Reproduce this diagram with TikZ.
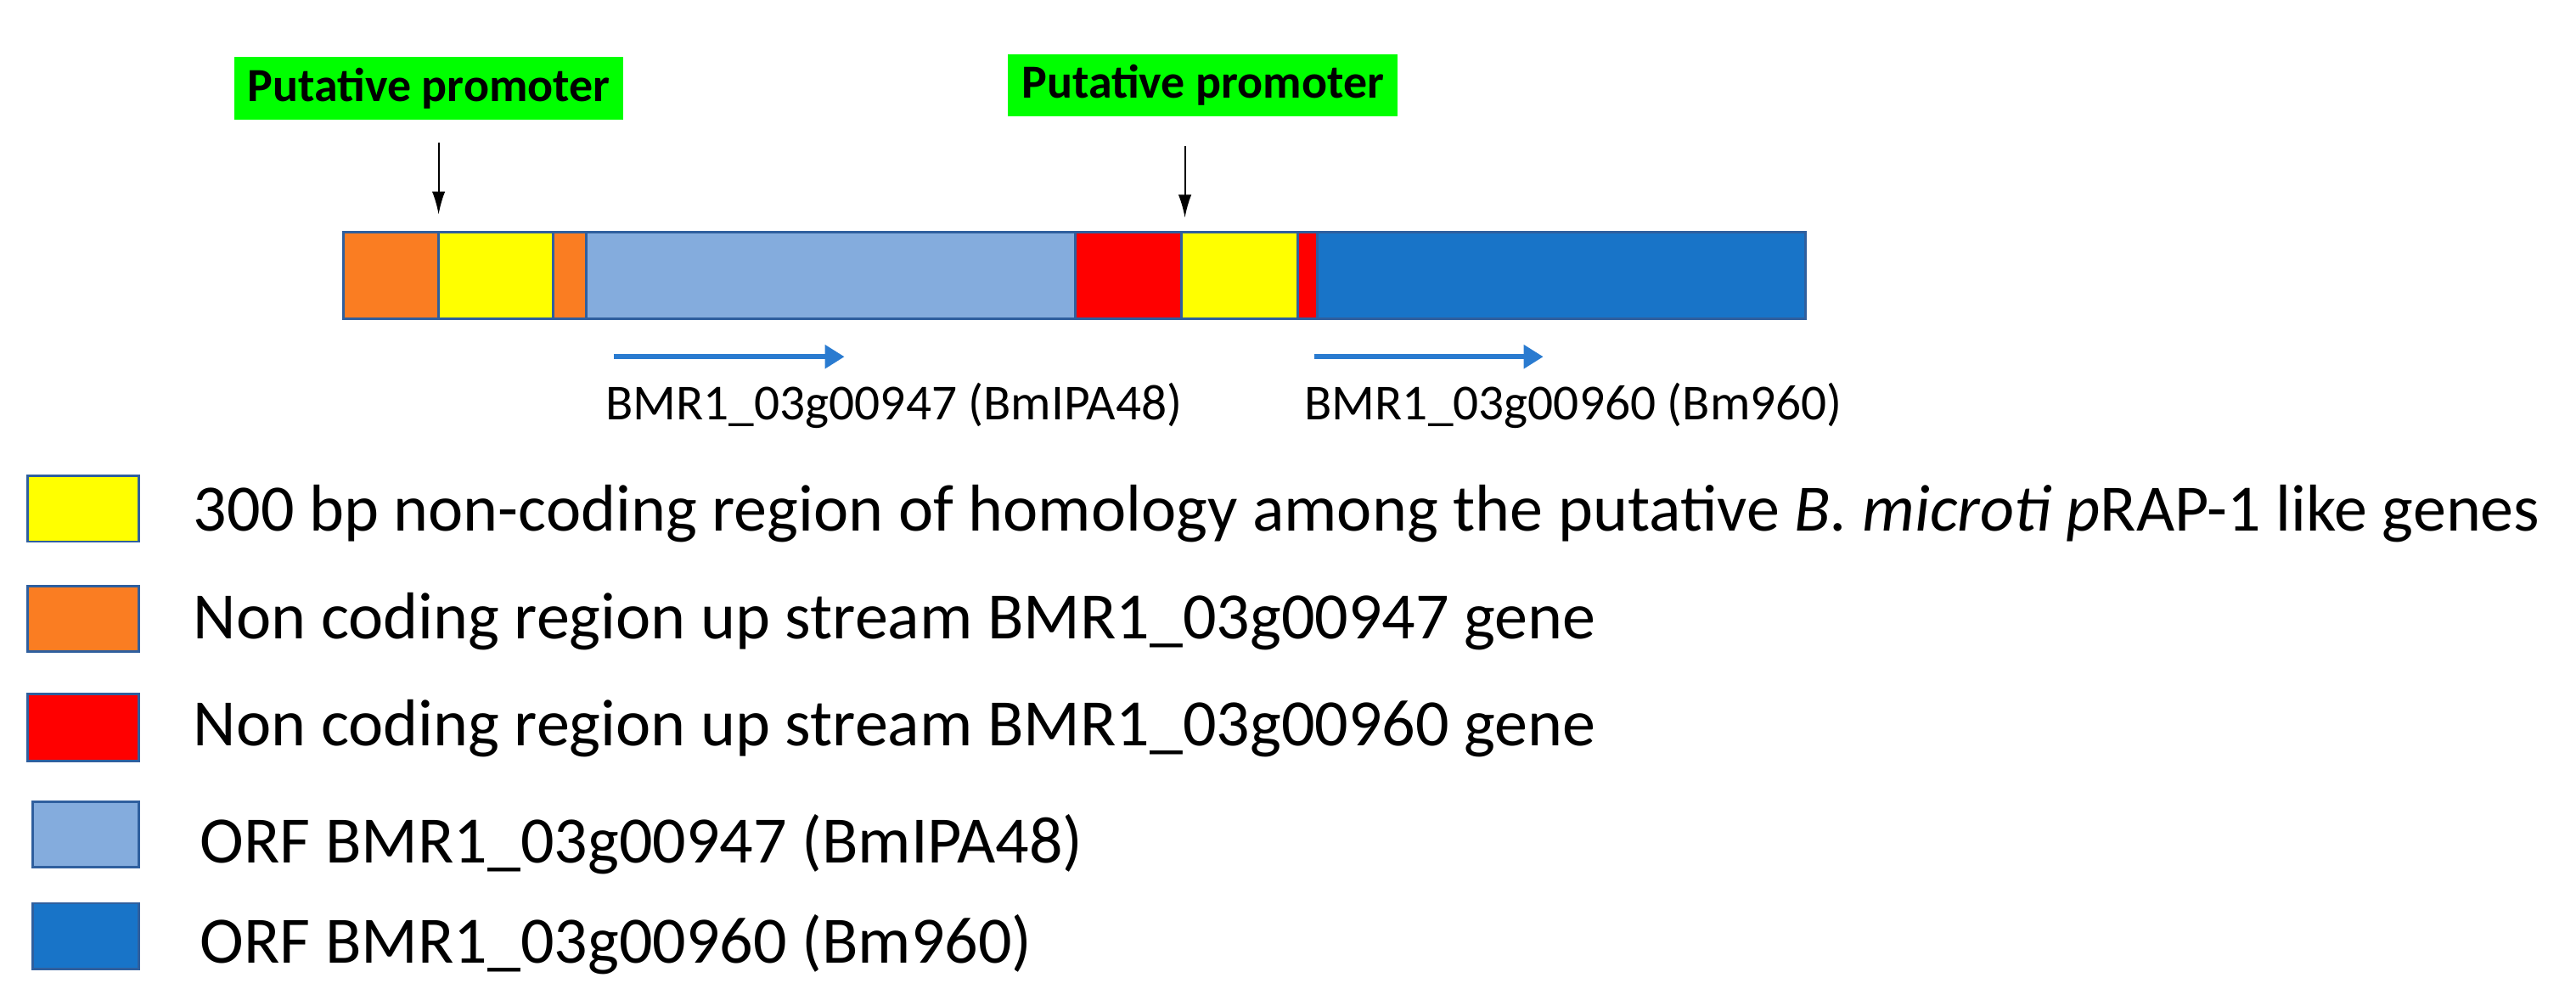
\documentclass[tikz,border=0pt]{standalone}
\usepackage{fontspec}
\setmainfont{Carlito}
\usetikzlibrary{arrows.meta}
\definecolor{orng}{HTML}{FA7D22}
\definecolor{ylw}{HTML}{FFFF00}
\definecolor{rd}{HTML}{FF0000}
\definecolor{lblue}{HTML}{84ACDD}
\definecolor{dblue}{HTML}{1874C8}
\definecolor{edge}{HTML}{2F5F9E}
\definecolor{grn}{HTML}{00FF00}
\definecolor{arr}{HTML}{2A7BD0}
\begin{document}
\begin{tikzpicture}[x=1pt,y=-1pt,
  seg/.style={draw=edge,line width=1.5pt},
  promo/.style={fill=grn,inner sep=0pt,minimum width=238pt,minimum height=38pt,font=\fontsize{29}{34}\selectfont\bfseries},
  lbl/.style={font=\fontsize{30.8}{36}\selectfont,anchor=west,inner sep=0pt},
  leg/.style={font=\fontsize{40.5}{48}\selectfont,anchor=west,inner sep=0pt},
  pointer/.style={-{Latex[length=14pt,width=8pt]},line width=1pt},
  genearr/.style={-{Triangle[length=12pt,width=14pt]},line width=3pt,arr}]
\useasboundingbox (0,0) rectangle (1574,611);
\node[promo] (p1) at (262,54) {Putative promoter};
\node[promo] (p2) at (735,52) {Putative promoter};
\coordinate (a1s) at (268,87); \coordinate (a1e) at (268,131);
\coordinate (a2s) at (724,89); \coordinate (a2e) at (724,133);
\draw[pointer] (a1s) -- (a1e);
\draw[pointer] (a2s) -- (a2e);
\foreach \xa/\xb/\c in {210/268/orng,268/338/ylw,338/358/orng,358/657/lblue,657/722/rd,722/793/ylw,793/805/rd,805/1103/dblue}
  \draw[seg,fill=\c] (\xa,142) rectangle (\xb,195);
\coordinate (g1s) at (375,218); \coordinate (g1e) at (516,218);
\coordinate (g2s) at (803,218); \coordinate (g2e) at (943,218);
\draw[genearr] (g1s) -- (g1e);
\draw[genearr] (g2s) -- (g2e);
\node[lbl] (l1) at (370,248) {BMR1\_03g00947 (BmIPA48)};
\node[lbl] (l2) at (797,248) {BMR1\_03g00960 (Bm960)};
\draw[seg,fill=ylw] (17,291) rectangle (85,331);
\draw[seg,fill=orng] (17,358) rectangle (85,398);
\draw[seg,fill=rd] (17,424) rectangle (85,465);
\draw[seg,fill=lblue] (20,490) rectangle (85,530);
\draw[seg,fill=dblue] (20,552) rectangle (85,592);
\node[leg] (t1) at (118,314) {300 bp non-coding region of homology among the putative \textit{B. microti p}RAP-1 like genes};
\node[leg] (t2) at (118,380) {Non coding region up stream BMR1\_03g00947 gene};
\node[leg] (t3) at (118,445) {Non coding region up stream BMR1\_03g00960 gene};
\node[leg] (t4) at (122,516) {ORF BMR1\_03g00947 (BmIPA48)};
\node[leg] (t5) at (122,577) {ORF BMR1\_03g00960 (Bm960)};
\end{tikzpicture}
\end{document}
